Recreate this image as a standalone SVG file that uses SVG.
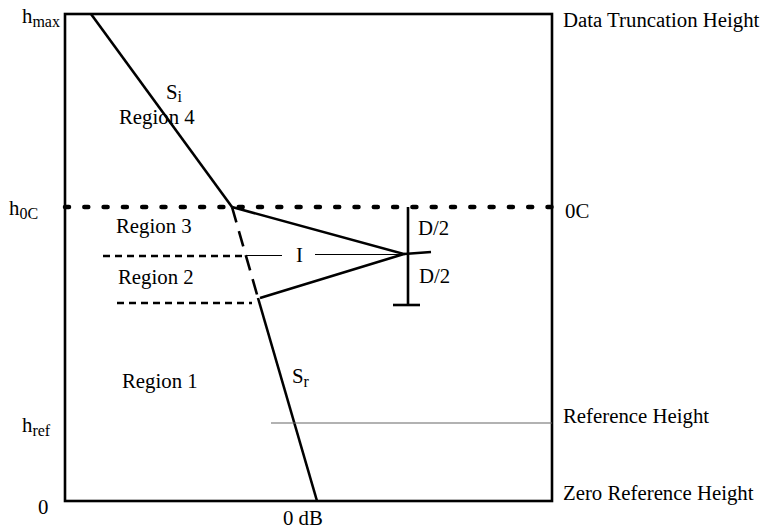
<svg xmlns="http://www.w3.org/2000/svg" width="767" height="529" viewBox="0 0 767 529">
<style>
text{font-family:"Liberation Serif","Times New Roman",serif;font-size:20.8px;fill:#000}
.sub{font-size:16px}
.thick{stroke:#000;stroke-width:2.6;fill:none}
.thin{stroke:#000;stroke-width:1.1;fill:none}
.dash{stroke:#000;stroke-width:2.4;stroke-dasharray:7 5;fill:none}
</style>
<rect width="767" height="529" fill="#fff"/>
<g id="frame">
<rect x="65" y="14" width="487" height="487" class="thick" stroke-width="2.8"/>
</g>
<g id="connectors">
<line x1="65" y1="207" x2="552" y2="207" stroke="#000" stroke-width="4.5" stroke-linecap="round" stroke-dasharray="4 15.3"/>
<line x1="91" y1="14" x2="232" y2="207" class="thick"/>
<line x1="232" y1="207" x2="258" y2="298" stroke="#000" stroke-width="2.6" stroke-dasharray="16 9"/>
<line x1="258" y1="298" x2="317" y2="501" class="thick"/>
<line x1="103" y1="256" x2="247" y2="256" class="dash"/>
<line x1="117" y1="303" x2="252" y2="303" class="dash"/>
<line x1="247" y1="255.5" x2="282" y2="255.5" class="thin"/>
<line x1="315" y1="254.5" x2="402" y2="254.5" class="thin"/>
<polyline points="232,207 404,254 260,298" class="thick"/>
<line x1="404" y1="254" x2="431" y2="252" class="thick"/>
<line x1="408" y1="207" x2="408" y2="305" class="thick" stroke-width="3"/>
<line x1="393" y1="305" x2="420" y2="305" class="thick" stroke-width="3"/>
<line x1="271" y1="423" x2="552" y2="423" stroke="#666" stroke-width="1.2"/>
</g>
<g id="labels">
<text x="22" y="23">h<tspan class="sub" dy="4">max</tspan></text>
<text x="9" y="215">h<tspan class="sub" dy="4">0C</tspan></text>
<text x="22" y="432">h<tspan class="sub" dy="4">ref</tspan></text>
<text x="38" y="514">0</text>
<text x="283" y="525">0 dB</text>
<text x="563" y="27">Data Truncation Height</text>
<text x="565" y="218">0C</text>
<text x="563" y="423">Reference Height</text>
<text x="563" y="500">Zero Reference Height</text>
<text x="119" y="124">Region 4</text>
<text x="116" y="233">Region 3</text>
<text x="118" y="284">Region 2</text>
<text x="122" y="388">Region 1</text>
<text x="166" y="99">S<tspan class="sub" dy="3">i</tspan></text>
<text x="292" y="383">S<tspan class="sub" dy="4">r</tspan></text>
<text x="296" y="262">I</text>
<text x="418" y="235">D/2</text>
<text x="419" y="283">D/2</text>
</g>
</svg>
